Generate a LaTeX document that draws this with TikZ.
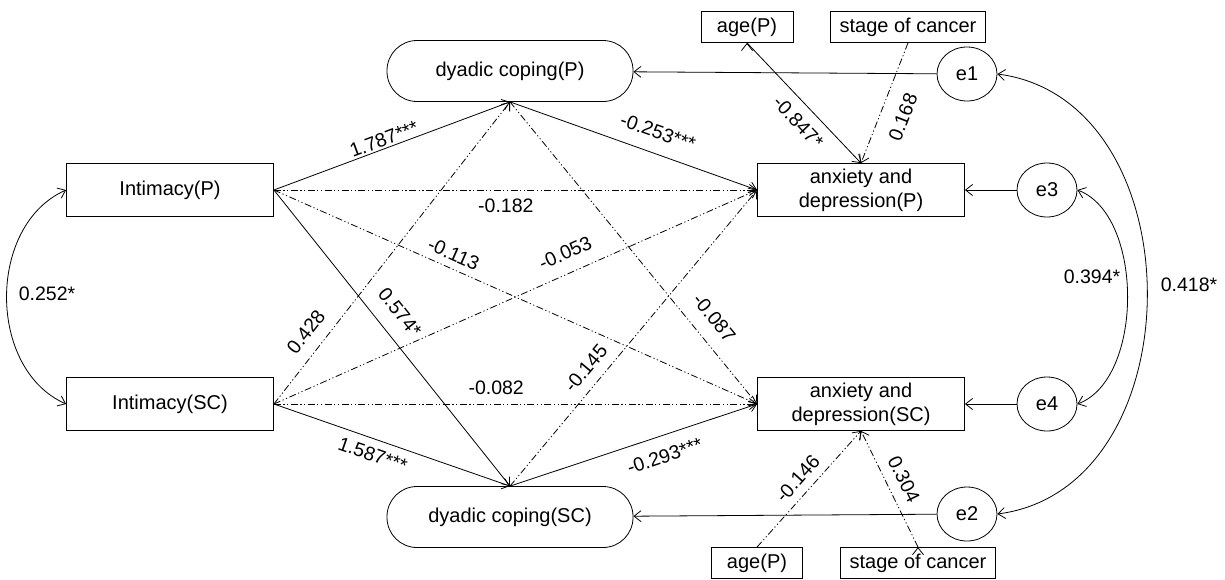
\documentclass[tikz,border=0pt]{standalone}
\usepackage{fontspec}
\setmainfont{Liberation Sans}
\usetikzlibrary{arrows.meta,shapes.geometric}
\tikzset{
  box/.style={draw, minimum width=207pt, minimum height=53pt, inner sep=0pt,
    align=center, font=\fontsize{20}{24}\selectfont},
  pill/.style={draw, rounded corners=30pt, minimum width=246pt, minimum height=61pt,
    font=\fontsize{20}{24}\selectfont},
  err/.style={draw, ellipse, minimum width=60pt, minimum height=54pt, inner sep=0pt,
    font=\fontsize{20}{24}\selectfont},
  cov/.style={draw, minimum height=31pt, inner sep=0pt, font=\fontsize{20}{24}\selectfont},
  lbl/.style={font=\fontsize{19.5}{22}\selectfont, inner sep=2pt, sloped},
  ddot/.style={dash pattern=on 7pt off 2.5pt on 1.2pt off 2.5pt on 1.2pt off 2.5pt},
  >={Straight Barb[length=7pt,width=11pt]}
}
\begin{document}
\begin{tikzpicture}[x=1pt, y=-1pt, line width=0.8pt]
    \useasboundingbox (0,0) rectangle (1225,579);
    % observed variables
    \node (IP) [box] at (170,190) {Intimacy(P)};
    \node (ISC) [box] at (170,404) {Intimacy(SC)};
    \node (DCP) [pill] at (510,71) {dyadic coping(P)};
    \node (DCSC) [pill] at (510,517) {dyadic coping(SC)};
    \node (ADP) [box] at (861,190) {anxiety and\\depression(P)};
    \node (ADSC) [box] at (861,404) {anxiety and\\depression(SC)};
    % covariates
    \node (ageT) [cov, minimum width=92pt] at (747,27) {age(P)};
    \node (stageT) [cov, minimum width=155pt] at (908,27) {stage of cancer};
    \node (ageB) [cov, minimum width=91pt] at (757,563) {age(P)};
    \node (stageB) [cov, minimum width=155pt] at (918,563) {stage of cancer};
    % residuals
    \node (e1) [err] at (967,74) {e1};
    \node (e3) [err] at (1047,190) {e3};
    \node (e4) [err] at (1047,404) {e4};
    \node (e2) [err] at (967,514) {e2};

    % significant paths
    \draw[->] (IP.east) edge node (w1) [lbl, above, pos=.48] {1.787***} (DCP.south)
              (DCP.south) edge node (w2) [lbl, above=12pt, pos=.57] {-0.253***} (ADP.west)
              (IP.east) edge node (w3) [lbl, above=13pt, pos=.46] {0.574*} (DCSC.north)
              (ISC.east) edge node (w4) [lbl, below=6pt, pos=.44] {1.587***} (DCSC.north)
              (DCSC.north) edge node (w5) [lbl, below=11pt, pos=.6] {-0.293***} (ADSC.west)
              (ageT.south) edge node (w13) [lbl, below=8pt, pos=.56] {-0.847*} (ADP.north);
    % non-significant paths
    \draw[->, ddot] (IP.east) edge node (w6) [lbl, below=6pt, pos=.48] {-0.182} (ADP.west)
              (IP.east) edge node (w7) [lbl, above=5pt, pos=.36] {-0.113} (ADSC.west)
              (ISC.east) edge node (w8) [lbl, above=11pt, pos=.62] {-0.053} (ADP.west)
              (ISC.east) edge node (w9) [lbl, above=7pt, pos=.46] {-0.082} (ADSC.west)
              (ISC.east) edge node (w10) [lbl, above=10pt, pos=.2] {0.428} (DCP.south)
              (DCP.south) edge node (w11) [lbl, above=12pt, pos=.76] {-0.087} (ADSC.west)
              (DCSC.north) edge node (w12) [lbl, above=8pt, pos=.36] {-0.145} (ADP.west)
              (stageT.south) edge node (w14) [lbl, below=13pt, pos=.55] {0.168} (ADP.north)
              (ageB.north) edge node (w15) [lbl, above=6pt, pos=.5] {-0.146} (ADSC.south)
              (stageB.north) edge node (w16) [lbl, above=8pt, pos=.52] {0.304} (ADSC.south);
    % residual arrows
    \draw[->] (e1) edge (DCP)
              (e3) edge (ADP)
              (e4) edge (ADSC)
              (e2) edge (DCSC);
    % covariances
    \draw[<->] (IP.west) .. controls (-13,225) and (-13,369) .. (ISC.west);
    \draw[<->] (e3.east) .. controls (1144,215) and (1144,379) .. (e4.east);
    \draw[<->] (e1.east) .. controls (1197,100) and (1197,488) .. (e2.east);
    \node (c1) [font=\fontsize{19.5}{22}\selectfont] at (47,294) {0.252*};
    \node (c2) [font=\fontsize{19.5}{22}\selectfont] at (1092,277) {0.394*};
    \node (c3) [font=\fontsize{19.5}{22}\selectfont] at (1189,285) {0.418*};
\end{tikzpicture}
\end{document}
